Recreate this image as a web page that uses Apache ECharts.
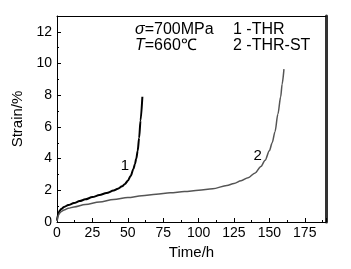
<!DOCTYPE html>
<html><head><meta charset="utf-8">
<script src="https://cdn.jsdelivr.net/npm/echarts@6/dist/echarts.min.js"></script>
<style>html,body{margin:0;padding:0;background:#fff}#c{width:351px;height:269px}</style>
</head><body><div id="c"></div>
<script>
var timeTHR   = [0, 0.5, 1, 2, 3, 5, 8, 12, 16, 20, 25, 30, 35, 40, 43, 46, 48, 50, 52, 54, 55, 56, 57, 58, 59, 60.3];
var strainTHR = [0.1, 0.4, 0.55, 0.72, 0.82, 0.95, 1.07, 1.2, 1.32, 1.43, 1.57, 1.7, 1.83, 1.98, 2.1, 2.25, 2.4, 2.6, 2.9, 3.35, 3.65, 4.0, 4.5, 5.3, 6.4, 7.9];
var timeST    = [0, 0.5, 1, 2, 3, 5, 8, 12, 20, 30, 40, 50, 60, 70, 80, 90, 100, 110, 120, 125, 130, 135, 140, 144, 147, 150, 152, 154, 156, 158, 159, 160.3];
var strainST  = [0.05, 0.3, 0.42, 0.58, 0.66, 0.76, 0.86, 0.95, 1.1, 1.27, 1.42, 1.54, 1.65, 1.75, 1.84, 1.92, 2.0, 2.1, 2.3, 2.43, 2.6, 2.8, 3.1, 3.5, 3.9, 4.5, 5.0, 5.7, 6.8, 7.9, 8.7, 9.65];
var curveLabels = ['1', '2'];
var labelPos = [[48, 3.52], [141.8, 4.15]];

function pairs(a, b) { return a.map(function (v, i) { return [v, b[i]]; }); }
var font = 'Liberation Sans, Arial, sans-serif';
var chart = echarts.init(document.getElementById('c'), null, {renderer: 'canvas'});
chart.setOption({
  animation: false,
  grid: {left: 57, right: 25, top: 16, bottom: 47},
  xAxis: [{
    type: 'value', min: 0, max: 190, interval: 25,
    name: 'Time/h', nameLocation: 'middle', nameGap: 21,
    nameTextStyle: {fontFamily: font, fontSize: 15, color: '#000'},
    axisLine: {onZero: false, lineStyle: {color: '#000', width: 1}},
    axisTick: {inside: true, length: 4, lineStyle: {color: '#000'}},
    minorTick: {show: true, splitNumber: 2, length: 2, lineStyle: {color: '#000'}},
    splitLine: {show: false},
    axisLabel: {fontFamily: font, fontSize: 14, color: '#000', margin: 4, showMaxLabel: false}
  }, {
    type: 'value', position: 'top', min: 0, max: 190,
    axisLine: {show: true, onZero: false, lineStyle: {color: '#000', width: 1}},
    axisTick: {show: false}, axisLabel: {show: false}, splitLine: {show: false}
  }],
  yAxis: [{
    type: 'value', min: 0, max: 13, interval: 2,
    name: 'Strain/%', nameLocation: 'middle', nameGap: 26,
    nameTextStyle: {fontFamily: font, fontSize: 15, color: '#000'},
    axisLine: {show: true, onZero: false, lineStyle: {color: '#000', width: 1}},
    axisTick: {inside: true, length: 4, lineStyle: {color: '#000'}},
    minorTick: {show: true, splitNumber: 2, length: 2, lineStyle: {color: '#000'}},
    splitLine: {show: false},
    axisLabel: {fontFamily: font, fontSize: 14, color: '#000', margin: 5, showMaxLabel: false}
  }, {
    type: 'value', position: 'right', min: 0, max: 13,
    axisLine: {show: true, onZero: false, lineStyle: {color: '#333', width: 3}},
    axisTick: {show: false}, axisLabel: {show: false}, splitLine: {show: false}
  }],
  series: [{
    type: 'line', data: pairs(timeTHR, strainTHR), showSymbol: false,
    smooth: 0.3, smoothMonotone: 'x',
    lineStyle: {color: '#000', width: 2},
    markPoint: {symbol: 'circle', symbolSize: 0, silent: true,
      label: {show: true, formatter: curveLabels[0], fontFamily: font, fontSize: 15, color: '#000', position: 'inside'},
      data: [{coord: labelPos[0]}]}
  }, {
    type: 'line', data: pairs(timeST, strainST), showSymbol: false,
    smooth: 0.3, smoothMonotone: 'x',
    lineStyle: {color: '#555', width: 1.5},
    markPoint: {symbol: 'circle', symbolSize: 0, silent: true,
      label: {show: true, formatter: curveLabels[1], fontFamily: font, fontSize: 15, color: '#000', position: 'inside'},
      data: [{coord: labelPos[1]}]}
  }],
  graphic: [
    {type: 'text', left: 135, top: 22, style: {text: '{i|σ}=700MPa', fontFamily: font, fontSize: 16, fill: '#000',
      rich: {i: {fontStyle: 'italic', fontFamily: font, fontSize: 16}}}},
    {type: 'text', left: 135, top: 38, style: {text: '{i|T}=660℃', fontFamily: font, fontSize: 16, fill: '#000',
      rich: {i: {fontStyle: 'italic', fontFamily: font, fontSize: 16}}}},
    {type: 'text', left: 233, top: 22, style: {text: '1 -THR', fontFamily: font, fontSize: 16, fill: '#000'}},
    {type: 'text', left: 233, top: 38, style: {text: '2 -THR-ST', fontFamily: font, fontSize: 16, fill: '#000'}}
  ]
});
</script></body></html>
